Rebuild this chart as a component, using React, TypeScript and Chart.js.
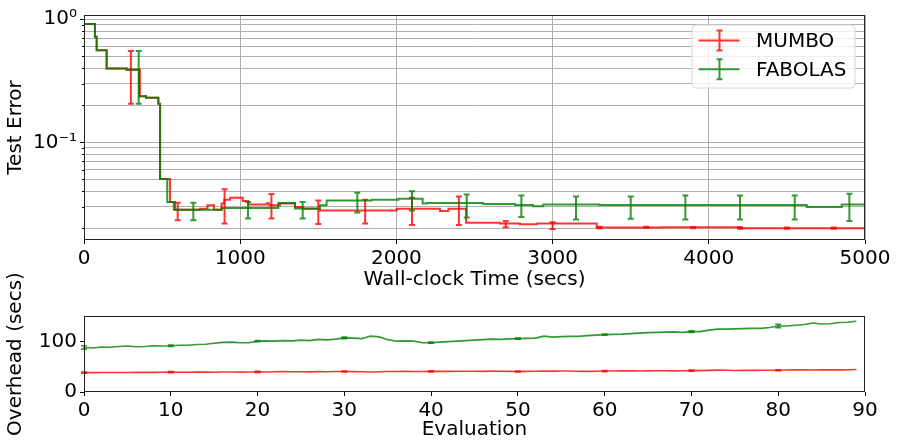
import { useEffect, useRef } from "react";
import { Chart, registerables } from "chart.js";

Chart.register(...registerables);

const FONT_FAMILY = "'DejaVu Sans', 'Liberation Sans', sans-serif";
const RED = "rgba(255,0,0,0.8)";
const GREEN = "rgba(0,128,0,0.8)";

// ---------- Top panel: test error vs wall-clock time (step curves) ----------
const mumboTimes = [0, 70, 81, 145, 273, 358, 397, 476, 487, 551, 575, 743, 790, 832, 881, 898, 935, 1016, 1052, 1170, 1186, 1255, 1351, 1404, 1511, 2002, 2279, 2333, 2446, 2663, 2791, 2900, 3282, 3700, 4200, 5000];
const mumboTestError = [0.912, 0.718, 0.558, 0.398, 0.389, 0.236, 0.23, 0.206, 0.0503, 0.0327, 0.0284, 0.0289, 0.0308, 0.0284, 0.0318, 0.0342, 0.0354, 0.0333, 0.0312, 0.032, 0.0308, 0.0318, 0.0298, 0.0289, 0.028, 0.0289, 0.0277, 0.0289, 0.0222, 0.0219, 0.0216, 0.0219, 0.0203, 0.0204, 0.0201, 0.0201];

const fabolasTimes = [0, 70, 81, 145, 273, 352, 397, 476, 487, 533, 583, 882, 1244, 1351, 1511, 1553, 1842, 2012, 2168, 2194, 2556, 2759, 2875, 2940, 3300, 3900, 4627, 4851, 5000];
const fabolasTestError = [0.912, 0.718, 0.558, 0.398, 0.389, 0.236, 0.23, 0.206, 0.0503, 0.0327, 0.0284, 0.0293, 0.0322, 0.029, 0.0308, 0.0337, 0.0342, 0.0348, 0.0318, 0.0321, 0.0315, 0.031, 0.0302, 0.0312, 0.0309, 0.031, 0.0298, 0.0312, 0.0312];

const mumboErrTimes = [300, 600, 900, 1200, 1500, 1800, 2100, 2400, 2700, 3000, 3300, 3600, 3900, 4200, 4500, 4800];
const mumboErrLow = [0.206, 0.0233, 0.0219, 0.0241, 0.0217, 0.0219, 0.0213, 0.0213, 0.0204, 0.0198, 0.0201, 0.0202, 0.0201, 0.0199, 0.0199, 0.0199];
const mumboErrHigh = [0.552, 0.0323, 0.0416, 0.0381, 0.0337, 0.0342, 0.0354, 0.0363, 0.023, 0.0224, 0.0206, 0.0206, 0.0205, 0.0204, 0.0203, 0.0203];

const fabolasErrTimes = [350, 700, 1050, 1400, 1750, 2100, 2450, 2800, 3150, 3500, 3850, 4200, 4550, 4900];
const fabolasErrLow = [0.206, 0.0233, 0.0241, 0.0241, 0.0269, 0.028, 0.0245, 0.0248, 0.0236, 0.0239, 0.0236, 0.0236, 0.0236, 0.023];
const fabolasErrHigh = [0.552, 0.0323, 0.0327, 0.0327, 0.0389, 0.04, 0.0377, 0.037, 0.0363, 0.0363, 0.037, 0.037, 0.037, 0.0382];

const topXTicks = [0, 1000, 2000, 3000, 4000, 5000];
const topYTicks = [0.02, 0.03, 0.04, 0.05, 0.06, 0.07, 0.08, 0.09, 0.1, 0.2, 0.3, 0.4, 0.5, 0.6, 0.7, 0.8, 0.9, 1];
const topYMajor = [0.1, 1];
const topYLabels = ["10⁻¹", "10⁰"];

// ---------- Bottom panel: overhead per evaluation ----------
const mumboOverhead = [
  38.5, 38.5, 38.6, 38.7, 38.6, 38.8, 38.9, 39, 38.9, 39.2,
  39.5, 39.2, 39.3, 39.6, 39.4, 39.3, 39.6, 39.8, 39.5, 39.7,
  40, 39.8, 40.2, 40.5, 40.3, 40.2, 40, 40.4, 40.2, 40.6,
  40.8, 40.5, 40.2, 39.6, 40.3, 40.6, 40.8, 40.9, 40.6, 40.8,
  41, 41.2, 41, 41.1, 41.3, 41.2, 41, 41.4, 41.2, 41,
  40.8, 40.9, 41.3, 41.5, 41.4, 41.6, 41.8, 41.2, 41, 41.3,
  41.6, 41.8, 41.9, 42, 41.8, 41.9, 42.1, 42.2, 42, 42.3,
  42.6, 42.5, 43, 43.5, 43.2, 42.8, 42.9, 43, 43.1, 43.2,
  43.2, 43.6, 44.2, 44, 43.8, 43.9, 44, 44, 44.1, 44.6,
];
const fabolasOverhead = [
  88.5, 87.5, 89.5, 89, 90.5, 91.5, 90, 90.5, 92, 91.5,
  92, 93, 93, 94.5, 95, 97, 98.5, 99, 98, 98,
  101, 101.5, 101, 102, 101.5, 103, 102, 104.5, 103.5, 105,
  107.5, 107, 106, 111, 109.5, 104, 101, 101.5, 101, 98,
  98, 99, 100, 101, 102, 103, 104, 105, 104.5, 105.5,
  106, 106.5, 107, 111, 109, 110, 110.5, 110.5, 112, 113,
  114, 114.5, 115, 116, 117, 118, 118.5, 119, 119.5, 118.5,
  120, 120, 123, 125, 125, 125.5, 126, 126.5, 126.5, 128,
  131, 131, 132.5, 134, 137, 135, 135.5, 138, 138.5, 140.5,
];
const evaluations = mumboOverhead.map((_, i) => i);

const overheadErrEvals = [0, 10, 20, 30, 40, 50, 60, 70, 80];
const mumboOverheadErr = [1, 1.2, 1.2, 0.8, 1, 1, 1.2, 1.2, 1];
const fabolasOverheadErr = [3.3, 1.5, 1, 1.5, 1, 1, 1.2, 1.5, 3.3];

const bottomXTicks = [0, 10, 20, 30, 40, 50, 60, 70, 80, 90];
const bottomYTicks = [0, 100];

// ---------- plugins ----------
type ErrSet = { xs: number[]; lows: number[]; highs: number[]; color: string; cap: number; width: number };

function makeErrorBarPlugin(sets: (ErrSet | null)[]) {
  return {
    id: "errorBarsCustom",
    afterDatasetDraw(chart: any, args: any) {
      const s = sets[args.index];
      if (!s) return;
      const { ctx } = chart;
      const x = chart.scales.x;
      const y = chart.scales.y;
      ctx.save();
      ctx.strokeStyle = s.color;
      ctx.lineWidth = s.width;
      ctx.beginPath();
      for (let i = 0; i < s.xs.length; i++) {
        const px = x.getPixelForValue(s.xs[i]);
        const pl = y.getPixelForValue(s.lows[i]);
        const ph = y.getPixelForValue(s.highs[i]);
        ctx.moveTo(px, pl);
        ctx.lineTo(px, ph);
        ctx.moveTo(px - s.cap, pl);
        ctx.lineTo(px + s.cap, pl);
        ctx.moveTo(px - s.cap, ph);
        ctx.lineTo(px + s.cap, ph);
      }
      ctx.stroke();
      ctx.restore();
    },
  };
}

function makeFramePlugin(minorTicks: number[] | null) {
  return {
    id: "frameCustom",
    afterDatasetsDraw(chart: any) {
      const { ctx, chartArea: ca } = chart;
      ctx.save();
      ctx.strokeStyle = "#222";
      ctx.lineWidth = 1;
      const l = Math.round(ca.left) + 0.5;
      const t = Math.round(ca.top) + 0.5;
      const r = Math.round(ca.right) - 0.5;
      const b = Math.round(ca.bottom) - 0.5;
      ctx.strokeRect(l, t, r - l, b - t);
      if (minorTicks) {
        const y = chart.scales.y;
        ctx.strokeStyle = "#000";
        ctx.beginPath();
        for (const v of minorTicks) {
          const py = Math.round(y.getPixelForValue(v)) + 0.5;
          ctx.moveTo(l - 2.5, py);
          ctx.lineTo(l, py);
        }
        ctx.stroke();
      }
      ctx.restore();
    },
  };
}

const legendNames = ["MUMBO", "FABOLAS"];
const legendColors = [RED, GREEN];

const legendPlugin = {
  id: "legendCustom",
  afterDraw(chart: any) {
    const { ctx, chartArea: ca } = chart;
    const w = 163;
    const h = 63;
    const right = ca.right - 10;
    const left = right - w;
    const top = ca.top + 10;
    ctx.save();
    const rad = 4;
    ctx.beginPath();
    ctx.moveTo(left + rad, top);
    ctx.lineTo(left + w - rad, top);
    ctx.arcTo(left + w, top, left + w, top + rad, rad);
    ctx.lineTo(left + w, top + h - rad);
    ctx.arcTo(left + w, top + h, left + w - rad, top + h, rad);
    ctx.lineTo(left + rad, top + h);
    ctx.arcTo(left, top + h, left, top + h - rad, rad);
    ctx.lineTo(left, top + rad);
    ctx.arcTo(left, top, left + rad, top, rad);
    ctx.closePath();
    ctx.fillStyle = "rgba(255,255,255,0.8)";
    ctx.fill();
    ctx.strokeStyle = "#d6d6d6";
    ctx.lineWidth = 1;
    ctx.stroke();
    const rows = [top + 15.6, top + 44.3];
    legendNames.forEach((name, i) => {
      const cy = rows[i];
      ctx.strokeStyle = legendColors[i];
      ctx.lineWidth = 2;
      ctx.beginPath();
      ctx.moveTo(left + 6.5, cy);
      ctx.lineTo(left + 47.5, cy);
      const bx = left + 27.5;
      ctx.moveTo(bx, cy - 10);
      ctx.lineTo(bx, cy + 10);
      ctx.moveTo(bx - 3, cy - 10);
      ctx.lineTo(bx + 3, cy - 10);
      ctx.moveTo(bx - 3, cy + 10);
      ctx.lineTo(bx + 3, cy + 10);
      ctx.stroke();
      ctx.fillStyle = "#000";
      ctx.font = `20px ${FONT_FAMILY}`;
      ctx.textBaseline = "middle";
      ctx.textAlign = "left";
      ctx.fillText(name, left + 64, cy + 1);
    });
    ctx.restore();
  },
};

export default function App() {
  const topRef = useRef<HTMLCanvasElement>(null);
  const bottomRef = useRef<HTMLCanvasElement>(null);

  useEffect(() => {
    Chart.defaults.font.family = FONT_FAMILY;
    Chart.defaults.font.size = 20;
    Chart.defaults.color = "#000";

    const topChart = new Chart(topRef.current as HTMLCanvasElement, {
      type: "line",
      data: {
        datasets: [
          {
            label: "MUMBO",
            data: mumboTimes.map((t, i) => ({ x: t, y: mumboTestError[i] })),
            borderColor: RED,
            borderWidth: 2,
            stepped: true,
            pointRadius: 0,
            fill: false,
            order: 2,
          },
          {
            label: "FABOLAS",
            data: fabolasTimes.map((t, i) => ({ x: t, y: fabolasTestError[i] })),
            borderColor: GREEN,
            borderWidth: 2,
            stepped: true,
            pointRadius: 0,
            fill: false,
            order: 1,
          },
        ],
      },
      options: {
        responsive: false,
        animation: false,
        devicePixelRatio: 1,
        layout: { padding: { left: 0, right: 33, top: 11.5, bottom: 0 } },
        plugins: { legend: { display: false }, tooltip: { enabled: false } },
        scales: {
          x: {
            type: "linear",
            min: 0,
            max: 5000,
            afterBuildTicks: (s: any) => {
              s.ticks = topXTicks.map((v) => ({ value: v }));
            },
            afterFit: (s: any) => {
              s.height = 60;
            },
            grid: { color: "#b0b0b0", lineWidth: 1, tickColor: "#000", tickLength: 4 },
            border: { display: false },
            ticks: { padding: 3, maxRotation: 0, autoSkip: false, callback: (v: any) => String(v) },
            title: { display: true, text: "Wall-clock Time (secs)", padding: { top: 0, bottom: 8 } },
          },
          y: {
            type: "logarithmic",
            min: 0.0161,
            max: 1.08,
            afterBuildTicks: (s: any) => {
              s.ticks = topYTicks.map((v) => ({ value: v }));
            },
            afterFit: (s: any) => {
              s.width = 84;
            },
            grid: {
              color: "#b0b0b0",
              lineWidth: 1,
              tickLength: 4,
              tickColor: (c: any) => (c.tick && topYMajor.includes(c.tick.value) ? "#000" : "rgba(0,0,0,0)"),
            },
            border: { display: false },
            ticks: {
              autoSkip: false,
              padding: 3,
              callback: (v: any) => {
                const k = topYMajor.indexOf(Number(v));
                return k >= 0 ? topYLabels[k] : "";
              },
            },
            title: { display: true, text: "Test Error", padding: { top: 4, bottom: 0 } },
          },
        },
      } as any,
      plugins: [
        makeErrorBarPlugin([
          { xs: fabolasErrTimes, lows: fabolasErrLow, highs: fabolasErrHigh, color: GREEN, cap: 3, width: 2 },
          { xs: mumboErrTimes, lows: mumboErrLow, highs: mumboErrHigh, color: RED, cap: 3, width: 2 },
        ].reverse() as any),
        makeFramePlugin(topYTicks.filter((v) => !topYMajor.includes(v))),
        legendPlugin,
      ],
    });

    const bottomChart = new Chart(bottomRef.current as HTMLCanvasElement, {
      type: "line",
      data: {
        datasets: [
          {
            label: "MUMBO",
            data: evaluations.map((e, i) => ({ x: e, y: mumboOverhead[i] })),
            borderColor: RED,
            borderWidth: 1.6,
            pointRadius: 0,
            fill: false,
            order: 2,
          },
          {
            label: "FABOLAS",
            data: evaluations.map((e, i) => ({ x: e, y: fabolasOverhead[i] })),
            borderColor: GREEN,
            borderWidth: 1.6,
            pointRadius: 0,
            fill: false,
            order: 1,
          },
        ],
      },
      options: {
        responsive: false,
        animation: false,
        devicePixelRatio: 1,
        layout: { padding: { left: 0, right: 33, top: 54, bottom: 0 } },
        plugins: { legend: { display: false }, tooltip: { enabled: false } },
        scales: {
          x: {
            type: "linear",
            min: 0,
            max: 90,
            afterBuildTicks: (s: any) => {
              s.ticks = bottomXTicks.map((v) => ({ value: v }));
            },
            afterFit: (s: any) => {
              s.height = 56;
            },
            grid: { drawOnChartArea: false, tickColor: "#000", tickLength: 4 },
            border: { display: false },
            ticks: { padding: 3, maxRotation: 0, autoSkip: false, callback: (v: any) => String(v) },
            title: { display: true, text: "Evaluation", padding: { top: 0, bottom: 6 } },
          },
          y: {
            type: "linear",
            min: 0,
            max: 151,
            afterBuildTicks: (s: any) => {
              s.ticks = bottomYTicks.map((v) => ({ value: v }));
            },
            afterFit: (s: any) => {
              s.width = 84;
            },
            grid: { drawOnChartArea: false, tickColor: "#000", tickLength: 4 },
            border: { display: false },
            ticks: { autoSkip: false, padding: 3, callback: (v: any) => String(v) },
            title: { display: true, text: "Overhead (secs)", padding: { top: 4, bottom: 0 } },
          },
        },
      } as any,
      plugins: [
        makeErrorBarPlugin([
          {
            xs: overheadErrEvals,
            lows: overheadErrEvals.map((e, i) => mumboOverhead[e] - mumboOverheadErr[i]),
            highs: overheadErrEvals.map((e, i) => mumboOverhead[e] + mumboOverheadErr[i]),
            color: RED,
            cap: 3,
            width: 1.6,
          },
          {
            xs: overheadErrEvals,
            lows: overheadErrEvals.map((e, i) => fabolasOverhead[e] - fabolasOverheadErr[i]),
            highs: overheadErrEvals.map((e, i) => fabolasOverhead[e] + fabolasOverheadErr[i]),
            color: GREEN,
            cap: 3,
            width: 1.6,
          },
        ]),
        makeFramePlugin(null),
      ],
    });

    return () => {
      topChart.destroy();
      bottomChart.destroy();
    };
  }, []);

  return (
    <div style={{ position: "absolute", left: 0, top: 0, width: 898, height: 448, background: "#fff" }}>
      <canvas
        ref={topRef}
        width={898}
        height={300}
        style={{ position: "absolute", left: 0, top: 0, width: 898, height: 300 }}
      />
      <canvas
        ref={bottomRef}
        width={898}
        height={186}
        style={{ position: "absolute", left: 0, top: 262, width: 898, height: 186 }}
      />
    </div>
  );
}
